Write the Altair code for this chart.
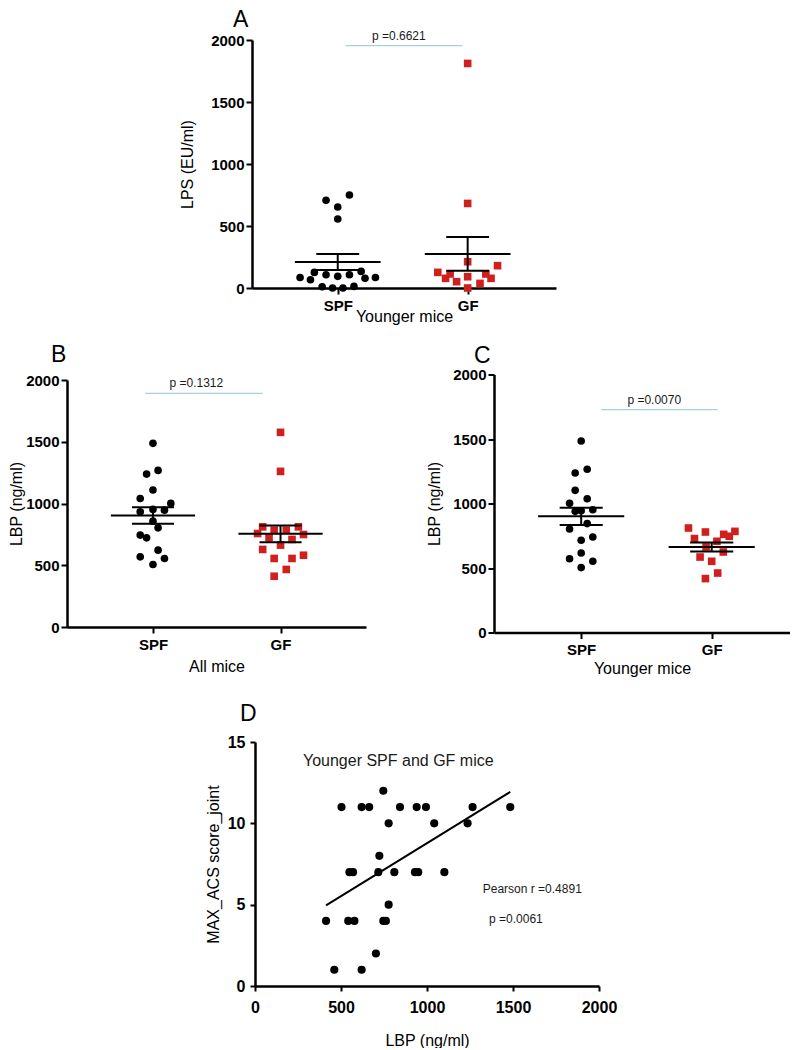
import altair as alt
import pandas as pd

FONT = "Liberation Sans"
RED = "#d0201e"
PLINE = "#a8d0d6"

# ---------------- Panel A: LPS (EU/ml), younger mice ----------------
a_spf_lps = [707, 653, 750, 556, 85, 67, 126, 107, 94, 107, 134, 78, 85, 10, 0, 0, 13]
a_spf_jit = [-0.09, 0, 0.09, 0, -0.29, -0.21, -0.18, -0.09, 0, 0.09, 0.18, 0.21, 0.29, -0.12, -0.04, 0.04, 0.125]
a_gf_lps = [1811, 682, 212, 126, 78, 113, 51, 91, 0, 37, 113, 78, 180]
a_gf_jit = [0, 0, 0, -0.23, -0.17, -0.135, -0.085, 0, 0, 0.095, 0.14, 0.18, 0.23]
a_p = {"label": "p =0.6621", "x1": 1.06, "x2": 1.96, "y": 1954, "tx": 1.47}

# ---------------- Panel B: LBP (ng/ml), all mice ----------------
b_spf_lbp = [1487, 1238, 1268, 1109, 1041, 1001, 933, 952, 946, 857, 803, 744, 722, 622, 568, 555, 506]
b_spf_jit = [0, -0.05, 0.04, 0, -0.1, 0.14, -0.1, 0, 0.09, 0, 0.04, -0.1, -0.05, 0.04, -0.1, 0.09, 0]
b_gf_lbp = [1576, 1260, 757, 811, 722, 784, 784, 811, 749, 709, 663, 628, 555, 555, 581, 466, 411]
b_gf_jit = [0, 0, -0.18, -0.14, -0.09, -0.05, 0.045, 0.14, 0.18, 0.09, 0, -0.14, -0.05, 0.09, 0.18, 0.045, -0.05]
b_p = {"label": "p =0.1312", "x1": 0.94, "x2": 1.86, "y": 1892, "tx": 1.34}

# ---------------- Panel C: LBP (ng/ml), younger mice ----------------
c_spf_lbp = [1484, 1265, 1236, 1102, 1037, 1001, 939, 944, 952, 844, 802, 715, 740, 572, 616, 552, 503]
c_spf_jit = [0, 0.046, -0.046, -0.046, 0.046, -0.089, -0.046, 0, 0.089, 0.046, -0.089, 0, 0.089, -0.089, 0, 0.089, 0]
c_gf_lbp = [810, 779, 728, 761, 746, 784, 707, 663, 585, 552, 624, 461, 418]
c_gf_jit = [-0.178, -0.048, -0.132, 0.092, 0.135, 0.178, 0.04, -0.043, -0.089, 0, 0.089, 0.046, -0.048]
c_p = {"label": "p =0.0070", "x1": 1.153, "x2": 2.046, "y": 1728, "tx": 1.56}

# ---------------- Panel D: correlation ----------------
d_lbp = [746, 503, 620, 664, 843, 940, 994, 1265, 1484, 777, 1042, 1236, 723,
         549, 570, 717, 810, 930, 949, 1101, 777, 413, 542, 578, 746, 761, 703, 461, 620]
d_score = [12, 11, 11, 11, 11, 11, 11, 11, 11, 10, 10, 10, 8,
           7, 7, 7, 7, 7, 7, 7, 5, 4, 4, 4, 4, 4, 2, 1, 1]
d_title = {"label": "Younger SPF and GF mice", "x": 833, "y": 13.5}
d_stats = {"label": ["Pearson r =0.4891", "p =0.0061"], "x": [1612, 1517], "y": [5.69, 3.89]}


def dots_df(spf_vals, spf_jit, gf_vals, gf_jit):
    rows = []
    for v, j in zip(spf_vals, spf_jit):
        rows.append({"group": "SPF", "pos": 1, "value": v, "jit": j})
    for v, j in zip(gf_vals, gf_jit):
        rows.append({"group": "GF", "pos": 2, "value": v, "jit": j})
    return pd.DataFrame(rows)


def letter_title(letter, dx, offset):
    return alt.TitleParams(letter, anchor="start", frame="group", dx=dx, offset=offset,
                           fontSize=23, fontWeight="normal", font=FONT, color="black")


def dot_panel(df, pinfo, xdom, width, height, ytitle, xtitle, letter,
              ytitle_pad, xtitle_pad, letter_dx, letter_offset):
    xscale = alt.Scale(domain=xdom, nice=False, zero=False)
    yscale = alt.Scale(domain=[0, 2000], nice=False)
    xaxis = alt.Axis(values=[1, 2], labelExpr="datum.value == 1 ? 'SPF' : 'GF'",
                     title=xtitle, grid=False, tickSize=6, labelPadding=4,
                     titlePadding=xtitle_pad, labelFlush=False)
    yaxis = alt.Axis(values=[0, 500, 1000, 1500, 2000], format="d", title=ytitle,
                     grid=False, tickSize=6, labelPadding=2, titlePadding=ytitle_pad)

    def X(f):
        return alt.X(f, type="quantitative", scale=xscale, axis=xaxis)

    def Y(f):
        return alt.Y(f, type="quantitative", scale=yscale, axis=yaxis)

    base = alt.Chart(df)
    pts = base.transform_calculate(xp="datum.pos + datum.jit")
    circles = pts.transform_filter("datum.group == 'SPF'").mark_circle(
        size=58, color="black", opacity=1).encode(x=X("xp"), y=Y("value"))
    squares = pts.transform_filter("datum.group == 'GF'").mark_square(
        size=58, color=RED, opacity=1).encode(x=X("xp"), y=Y("value"))

    stats = base.transform_aggregate(
        mean="mean(value)", sem="stderr(value)", groupby=["group", "pos"]
    ).transform_calculate(
        lo="datum.mean - datum.sem", hi="datum.mean + datum.sem",
        ml="datum.pos - 0.33", mr="datum.pos + 0.33",
        cl="datum.pos - 0.165", cr="datum.pos + 0.165")
    mean_rule = stats.mark_rule(color="black", strokeWidth=2).encode(
        x=X("ml"), x2=alt.X2("mr"), y=Y("mean"))
    vert = stats.mark_rule(color="black", strokeWidth=2).encode(
        x=X("pos"), y=Y("lo"), y2=alt.Y2("hi"))
    cap_hi = stats.mark_rule(color="black", strokeWidth=2).encode(
        x=X("cl"), x2=alt.X2("cr"), y=Y("hi"))
    cap_lo = stats.mark_rule(color="black", strokeWidth=2).encode(
        x=X("cl"), x2=alt.X2("cr"), y=Y("lo"))

    pdf = pd.DataFrame([pinfo])
    prule = alt.Chart(pdf).mark_rule(color=PLINE, strokeWidth=1.3).encode(
        x=X("x1"), x2=alt.X2("x2"), y=Y("y"))
    ptxt = alt.Chart(pdf).mark_text(font=FONT, fontSize=12, baseline="alphabetic",
                                    dy=-6, color="#1a1a1a").encode(
        x=X("tx"), y=Y("y"), text="label:N")

    return alt.layer(prule, ptxt, circles, squares, mean_rule, vert, cap_hi, cap_lo).properties(
        width=width, height=height, title=letter_title(letter, letter_dx, letter_offset))


panel_a = dot_panel(dots_df(a_spf_lps, a_spf_jit, a_gf_lps, a_gf_jit), a_p,
                    [0.34, 2.68], 304, 248, "LPS (EU/ml)", "Younger mice", "A",
                    15, -5, -19, -2)
panel_b = dot_panel(dots_df(b_spf_lbp, b_spf_jit, b_gf_lbp, b_gf_jit), b_p,
                    [0.326, 2.67], 299, 247, "LBP (ng/ml)", "All mice", "B",
                    1, 6, -16, 6)
panel_c = dot_panel(dots_df(c_spf_lbp, c_spf_jit, c_gf_lbp, c_gf_jit), c_p,
                    [0.332, 2.60], 296, 258, "LBP (ng/ml)", "Younger mice", "C",
                    10, 3, -20, 0)

# ---------------- Panel D ----------------
ddf = pd.DataFrame({"lbp": d_lbp, "score": d_score})
dx_scale = alt.Scale(domain=[0, 2000], nice=False)
dy_scale = alt.Scale(domain=[0, 15], nice=False)
dx_axis = alt.Axis(values=[0, 500, 1000, 1500, 2000], format="d", title="LBP (ng/ml)", grid=False,
                   tickSize=5, labelPadding=8, titlePadding=17, labelFontSize=16, titleFontSize=16,
                   labelFlush=False)
dy_axis = alt.Axis(values=[0, 5, 10, 15], format="d", title="MAX_ACS score_joint", grid=False,
                   tickSize=5, labelPadding=5, titlePadding=6, labelFontSize=16, titleFontSize=16)


def DX(f):
    return alt.X(f, type="quantitative", scale=dx_scale, axis=dx_axis)


def DY(f):
    return alt.Y(f, type="quantitative", scale=dy_scale, axis=dy_axis)


d_pts = alt.Chart(ddf).mark_circle(size=66, color="black", opacity=1).encode(
    x=DX("lbp"), y=DY("score"))
d_reg = alt.Chart(ddf).transform_regression("lbp", "score").mark_line(
    color="black", strokeWidth=2).encode(x=DX("lbp"), y=DY("score"))
d_t1 = alt.Chart(pd.DataFrame([d_title])).mark_text(
    font=FONT, fontSize=16, baseline="alphabetic", color="#1a1a1a").encode(
    x=DX("x"), y=DY("y"), text="label:N")
d_t2 = alt.Chart(pd.DataFrame(d_stats)).mark_text(
    font=FONT, fontSize=12, baseline="alphabetic", color="#1a1a1a").encode(
    x=DX("x"), y=DY("y"), text="label:N")
panel_d = alt.layer(d_pts, d_reg, d_t1, d_t2).properties(
    width=344, height=244, title=letter_title("D", -15, 8))


def spacer(w):
    return alt.Chart(pd.DataFrame({"v": [0]})).mark_rect(opacity=0).encode(
        x=alt.value(0), x2=alt.value(w), y=alt.value(0), y2=alt.value(10)
    ).properties(width=w, height=10)


row1 = alt.hconcat(spacer(175), panel_a, spacing=10, bounds="flush")
row2 = alt.hconcat(panel_b, panel_c, spacing=128, bounds="flush", center=True)
row3 = alt.hconcat(spacer(178), panel_d, spacing=10, bounds="flush")

chart = alt.vconcat(
    alt.vconcat(row1, row2, spacing=19.5),
    row3, spacing=26
).properties(
    padding={"left": 0, "top": 0, "right": 0, "bottom": 0},
    background="white"
).configure_view(strokeWidth=0).configure_axis(
    domainColor="black", domainWidth=2.5, tickColor="black", tickWidth=2,
    labelFont=FONT, labelFontWeight="bold", labelFontSize=15, labelColor="black",
    titleFont=FONT, titleFontWeight="normal", titleFontSize=16, titleColor="black"
)

chart.save("out.html", embed_options={"renderer": "svg", "actions": False})
